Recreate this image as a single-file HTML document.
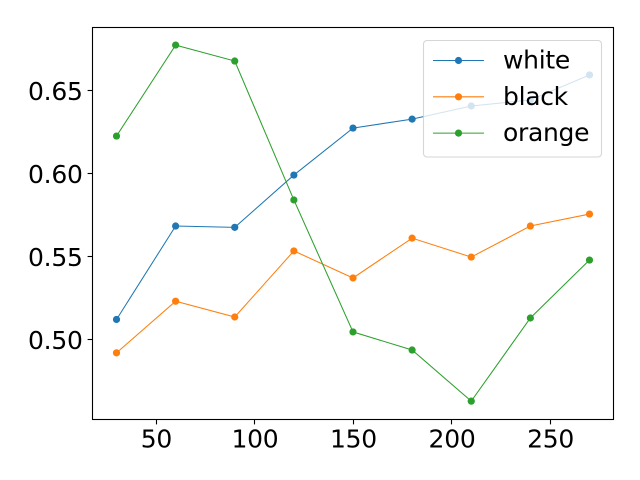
<!DOCTYPE html>
<html>
<head>
<meta charset="utf-8">
<style>
html,body{margin:0;padding:0;background:#fff;}
svg{display:block;}
text{font-family:"DejaVu Sans","Liberation Sans",sans-serif;fill:#000;}
</style>
</head>
<body>
<svg id="chart" xmlns="http://www.w3.org/2000/svg" width="640" height="480" viewBox="0 0 640 480"></svg>
<script>
const categories = [30, 60, 90, 120, 150, 180, 210, 240, 270];
const whiteValues = [0.512, 0.5683, 0.5675, 0.599, 0.6273, 0.6327, 0.6406, 0.6442, 0.6593];
const blackValues = [0.4919, 0.523, 0.5135, 0.5533, 0.537, 0.561, 0.5496, 0.5683, 0.5755];
const orangeValues = [0.6225, 0.6773, 0.6677, 0.584, 0.5045, 0.4936, 0.4628, 0.5129, 0.5478];
const xTickValues = [50, 100, 150, 200, 250];
const xTickLabels = ["50", "100", "150", "200", "250"];
const yTickValues = [0.5, 0.55, 0.6, 0.65];
const yTickLabels = ["0.50", "0.55", "0.60", "0.65"];
const seriesNames = ["white", "black", "orange"];
const seriesColors = ["#1f77b4", "#ff7f0e", "#2ca02c"];

const svg = document.getElementById('chart');
const NS = 'http://www.w3.org/2000/svg';
const plot = {left: 92.5, right: 613.5, top: 27.5, bottom: 419.5};
function xScale(v) { return 116.5 + (v - 30) * 1.9708; }
function yScale(v) { return 339.4 - (v - 0.5) * 1660; }
function make(tag, attrs, parent) {
  const el = document.createElementNS(NS, tag);
  for (const k in attrs) el.setAttribute(k, attrs[k]);
  (parent || svg).appendChild(el);
  return el;
}

[whiteValues, blackValues, orangeValues].forEach(function (values, s) {
  const group = make('g', {});
  
  
  const pts = values.map(function (v, i) { return xScale(categories[i]) + ',' + yScale(v); }).join(' ');
  const line = make('polyline', {points: pts, fill: 'none', stroke: seriesColors[s], 'stroke-width': 1.04}, group);
  
  
  values.forEach(function (v, i) {
    const c = make('circle', {cx: xScale(categories[i]), cy: yScale(v), r: 3.6, fill: seriesColors[s]}, group);
    
    
  });
});

const frame = make('rect', {x: plot.left, y: plot.top, width: plot.right - plot.left, height: plot.bottom - plot.top, fill: 'none', stroke: '#000', 'stroke-width': 1.1});



xTickValues.forEach(function (v, i) {
  const x = xScale(v);
  const snapped = Math.round(x - 0.3) + 0.5;
  const t = make('line', {x1: snapped, x2: snapped, y1: plot.bottom, y2: plot.bottom + 4.9, stroke: '#000', 'stroke-width': 1.1});
  
  
  const l = make('text', {x: x + 0.5, y: 447.6, 'font-size': 25, 'text-anchor': 'middle', 'letter-spacing': -0.25});
  l.textContent = xTickLabels[i];
  
  
});

yTickValues.forEach(function (v, i) {
  const y = yScale(v);
  const snapped = Math.floor(y) + 0.5;
  const t = make('line', {x1: plot.left - 4.9, x2: plot.left, y1: snapped, y2: snapped, stroke: '#000', 'stroke-width': 1.1});
  
  
  const l = make('text', {x: 82.7, y: y + 9.7, 'font-size': 25, 'text-anchor': 'end', 'letter-spacing': -0.25});
  l.textContent = yTickLabels[i];
  
  
});

const legend = make('g', {});


const box = make('rect', {x: 423.5, y: 40.5, width: 178, height: 116.5, rx: 3.5, ry: 3.5, fill: '#fff', 'fill-opacity': 0.8, stroke: '#ccc', 'stroke-opacity': 0.8, 'stroke-width': 1.1}, legend);


seriesNames.forEach(function (name, i) {
  const y = 60.5 + i * 36.3;
  const entry = make('g', {}, legend);
  
  
  make('line', {x1: 433, x2: 484, y1: y, y2: y, stroke: seriesColors[i], 'stroke-width': 1.04}, entry);
  make('circle', {cx: 458.5, cy: y, r: 3.6, fill: seriesColors[i]}, entry);
  const label = make('text', {x: 503, y: y + 8, 'font-size': 25, 'letter-spacing': -0.3}, entry);
  label.textContent = name;
});
</script>
</body>
</html>
